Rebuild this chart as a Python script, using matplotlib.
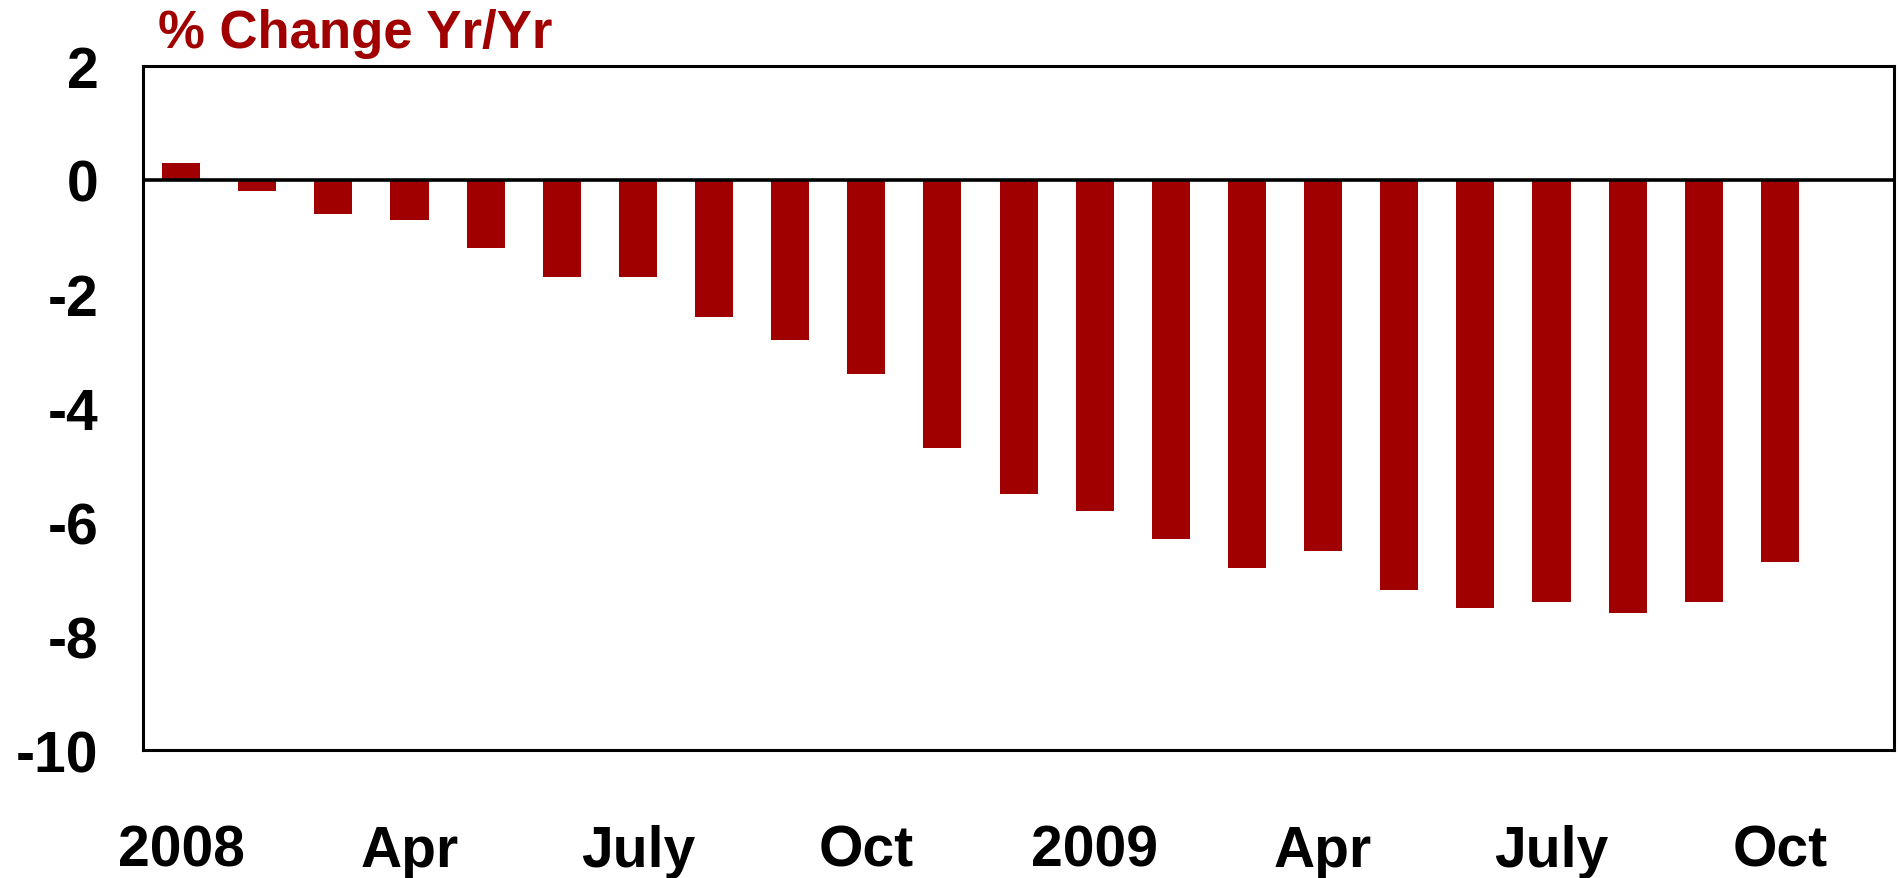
import matplotlib
matplotlib.use("Agg")
import matplotlib.pyplot as plt
from matplotlib import font_manager

# monthly data, Jan 2008 - Oct 2009
months = ["Jan08", "Feb08", "Mar08", "Apr08", "May08", "Jun08", "Jul08", "Aug08",
          "Sep08", "Oct08", "Nov08", "Dec08", "Jan09", "Feb09", "Mar09", "Apr09",
          "May09", "Jun09", "Jul09", "Aug09", "Sep09", "Oct09"]
pct_change = [0.3, -0.2, -0.6, -0.7, -1.2, -1.7, -1.7, -2.4, -2.8, -3.4, -4.7,
              -5.5, -5.8, -6.3, -6.8, -6.5, -7.2, -7.5, -7.4, -7.6, -7.4, -6.7]
tick_pos = [0, 3, 6, 9, 12, 15, 18, 21]
tick_labels = ["2008", "Apr", "July", "Oct", "2009", "Apr", "July", "Oct"]
y_ticks = [2, 0, -2, -4, -6, -8, -10]

bar_color = "#a00000"

names = {f.name for f in font_manager.fontManager.ttflist}
narrow = "Liberation Sans Narrow" if "Liberation Sans Narrow" in names else "Liberation Sans"
label_size = 46 if narrow == "Liberation Sans Narrow" else 41

fig = plt.figure(figsize=(19, 8.79), dpi=100)
ax = fig.add_axes([0.0753, 0.1456, 0.9216, 0.7782])

ax.bar(range(len(months)), pct_change, width=0.5, color=bar_color)
ax.axhline(0, color="black", linewidth=2.6)

ax.set_xlim(-0.5, len(months) + 0.5)
ax.set_ylim(-10, 2)
ax.set_yticks(y_ticks)
ax.set_yticklabels([str(v) for v in y_ticks])
ax.set_xticks(tick_pos)
ax.set_xticklabels(tick_labels)

for lab in ax.get_xticklabels() + ax.get_yticklabels():
    lab.set_fontfamily(narrow)
    lab.set_fontweight("bold")
    lab.set_fontsize(label_size)

ax.tick_params(axis="both", length=0)
ax.tick_params(axis="x", pad=53)
ax.tick_params(axis="y", pad=32)

for sp in ax.spines.values():
    sp.set_linewidth(2.2)
    sp.set_color("black")

fig.text(158 / 1900, 1 - 48 / 879, "% Change Yr/Yr", color=bar_color,
         fontsize=38, fontweight="bold", family="Liberation Sans",
         ha="left", va="baseline")

fig.savefig("out.png", dpi=100)
